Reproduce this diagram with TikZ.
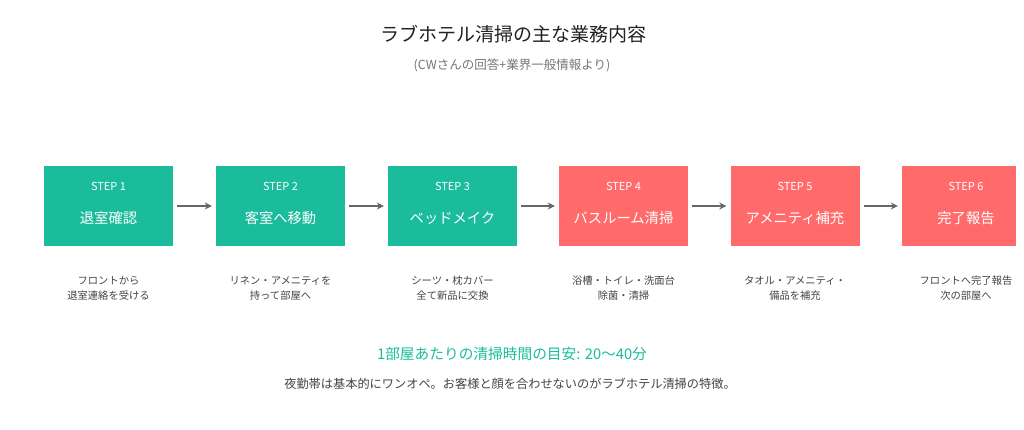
\documentclass[tikz,border=0pt]{standalone}
\usepackage{fontspec}
\setmainfont{Noto Sans CJK JP}
\usetikzlibrary{arrows.meta}
\definecolor{stepgreen}{RGB}{26,188,156}
\definecolor{stepred}{RGB}{255,107,107}
\definecolor{titlecol}{RGB}{34,34,34}
\definecolor{subcol}{RGB}{119,119,119}
\definecolor{desccol}{RGB}{68,68,68}
\definecolor{arrowcol}{RGB}{102,102,102}
\tikzset{
  stepbox/.style={draw=none, minimum width=129pt, minimum height=80pt, inner sep=0pt},
  steplbl/.style={text=white, font=\fontsize{11}{13}\selectfont},
  mainlbl/.style={text=white, font=\fontsize{14.3}{17}\selectfont},
  desc/.style={text=desccol, align=center, font=\fontsize{10.3}{15}\selectfont},
  flow/.style={draw=arrowcol, line width=1.4pt, -{Stealth[length=7pt,width=7pt]}},
}
\begin{document}
\begin{tikzpicture}[x=1pt,y=-1pt]
\useasboundingbox[fill=white] (0,0) rectangle (1024,429);
\node[text=titlecol, font=\fontsize{19}{22}\selectfont] (title) at (513,34) {ラブホテル清掃の主な業務内容};
\node[text=subcol, font=\fontsize{12.5}{15}\selectfont] (sub) at (512,65) {(CWさんの回答+業界一般情報より)};
% boxes
\node[stepbox, fill=stepgreen] (b1) at (108.5,206) {};
\node[stepbox, fill=stepgreen] (b2) at (280.5,206) {};
\node[stepbox, fill=stepgreen] (b3) at (452.5,206) {};
\node[stepbox, fill=stepred] (b4) at (623.5,206) {};
\node[stepbox, fill=stepred] (b5) at (795,206) {};
\node[stepbox, fill=stepred, minimum width=114pt] (b6) at (959,206) {};
% labels
\node[steplbl] (s1) at (108.5,186) {STEP 1};
\node[mainlbl] (m1) at (108.5,218) {退室確認};
\node[steplbl] (s2) at (280.5,186) {STEP 2};
\node[mainlbl] (m2) at (280.5,218) {客室へ移動};
\node[steplbl] (s3) at (452.5,186) {STEP 3};
\node[mainlbl] (m3) at (452.5,218) {ベッドメイク};
\node[steplbl] (s4) at (623.5,186) {STEP 4};
\node[mainlbl] (m4) at (623.5,218) {バスルーム清掃};
\node[steplbl] (s5) at (795,186) {STEP 5};
\node[mainlbl] (m5) at (795,218) {アメニティ補充};
\node[steplbl] (s6) at (966,186) {STEP 6};
\node[mainlbl] (m6) at (966,218) {完了報告};
% arrows
\draw[flow] ([xshift=4pt]b1.east) -- ([xshift=-4pt]b2.west);
\draw[flow] ([xshift=4pt]b2.east) -- ([xshift=-4pt]b3.west);
\draw[flow] ([xshift=4pt]b3.east) -- ([xshift=-4pt]b4.west);
\draw[flow] ([xshift=4pt]b4.east) -- ([xshift=-4pt]b5.west);
\draw[flow] ([xshift=4pt]b5.east) -- ([xshift=-4pt]b6.west);
% descriptions
\node[desc] (d1) at (108.5,288) {フロントから\\退室連絡を受ける};
\node[desc] (d2) at (280.5,288) {リネン・アメニティを\\持って部屋へ};
\node[desc] (d3) at (452.5,288) {シーツ・枕カバー\\全て新品に交換};
\node[desc] (d4) at (623.5,288) {浴槽・トイレ・洗面台\\除菌・清掃};
\node[desc] (d5) at (795,288) {タオル・アメニティ・\\備品を補充};
\node[desc] (d6) at (966,288) {フロントへ完了報告\\次の部屋へ};
% footer
\node[text=stepgreen, font=\fontsize{14.7}{17}\selectfont] (time) at (512,354) {1部屋あたりの清掃時間の目安: 20〜40分};
\node[text=desccol, font=\fontsize{12.2}{14}\selectfont] (note) at (510,384) {夜勤帯は基本的にワンオペ。お客様と顔を合わせないのがラブホテル清掃の特徴。};
\end{tikzpicture}
\end{document}
